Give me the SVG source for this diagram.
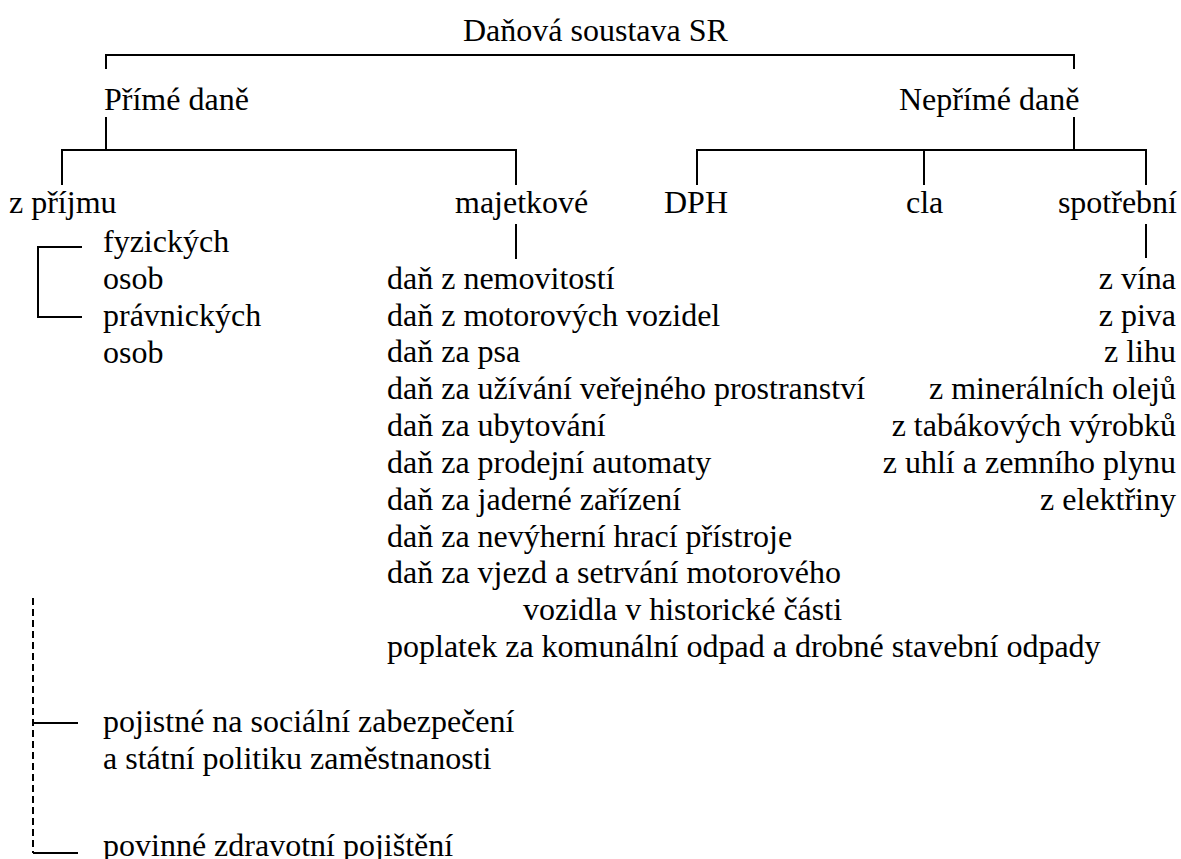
<svg xmlns="http://www.w3.org/2000/svg" width="1181" height="859" viewBox="0 0 1181 859">
<style>
.t text{font-size:32px;fill:#000}
.r{text-anchor:end}
.c line,.c path{stroke:#000;stroke-width:2;fill:none}
.c .d{stroke-dasharray:7 4}
</style>
<rect width="1181" height="859" fill="#fff"/>
<g id="connectors" class="c">
<path d="M106 69V55H1074V69"/>
<path d="M106 117V150M62 185V150H516V185"/>
<path d="M1074 117V150M697 185V150H1146V185M924 150V185"/>
<line x1="516" y1="224" x2="516" y2="259"/>
<line x1="1146" y1="224" x2="1146" y2="258"/>
<path d="M82 247H38V317H82"/>
<line class="d" x1="33" y1="598" x2="33" y2="853"/>
<path d="M33 723H78M33 853H78"/>
</g>
<g class="t" font-family="'Liberation Serif', 'Times New Roman', serif">
<g id="root"><text x="463" y="41">Daňová soustava SR</text></g>
<g id="prime"><text x="104" y="110">Přímé daně</text></g>
<g id="neprime"><text x="899" y="110">Nepřímé daně</text></g>
<g id="prijem"><text x="9" y="213">z příjmu</text></g>
<g id="majetkove"><text x="455" y="213">majetkové</text></g>
<g id="dph"><text x="664" y="213">DPH</text></g>
<g id="cla"><text x="906" y="213">cla</text></g>
<g id="spotrebni"><text class="r" x="1177" y="213">spotřební</text></g>
<g id="fyzicke"><text x="103" y="252">fyzických</text><text x="103" y="289">osob</text></g>
<g id="pravnicke"><text x="103" y="326">právnických</text><text x="103" y="363">osob</text></g>
<g id="majetkove-list">
<text x="387" y="289">daň z nemovitostí</text>
<text x="387" y="326">daň z motorových vozidel</text>
<text x="387" y="362">daň za psa</text>
<text x="387" y="399">daň za užívání veřejného prostranství</text>
<text x="387" y="436">daň za ubytování</text>
<text x="387" y="473">daň za prodejní automaty</text>
<text x="387" y="510">daň za jaderné zařízení</text>
<text x="387" y="547">daň za nevýherní hrací přístroje</text>
<text x="387" y="583">daň za vjezd a setrvání motorového</text>
<text x="523" y="620">vozidla v historické části</text>
<text x="387" y="657">poplatek za komunální odpad a drobné stavební odpady</text>
</g>
<g id="spotrebni-list">
<text class="r" x="1176" y="289">z vína</text>
<text class="r" x="1176" y="326">z piva</text>
<text class="r" x="1176" y="362">z lihu</text>
<text class="r" x="1176" y="399">z minerálních olejů</text>
<text class="r" x="1176" y="436">z tabákových výrobků</text>
<text class="r" x="1176" y="473">z uhlí a zemního plynu</text>
<text class="r" x="1176" y="510">z elektřiny</text>
</g>
<g id="socialni"><text x="103" y="732">pojistné na sociální zabezpečení</text><text x="103" y="769">a státní politiku zaměstnanosti</text></g>
<g id="zdravotni"><text x="103" y="856">povinné zdravotní pojištění</text></g>
</g>
</svg>
